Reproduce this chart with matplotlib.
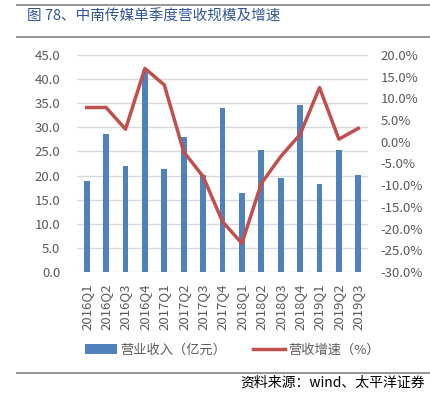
import matplotlib
matplotlib.use('Agg')
import matplotlib.pyplot as plt
from matplotlib.lines import Line2D
from matplotlib.ticker import FuncFormatter

plt.rcParams['font.family'] = ['Noto Sans CJK SC', 'DejaVu Sans']

# datos
trimestres = ['2016Q1', '2016Q2', '2016Q3', '2016Q4', '2017Q1', '2017Q2', '2017Q3',
              '2017Q4', '2018Q1', '2018Q2', '2018Q3', '2018Q4', '2019Q1', '2019Q2', '2019Q3']
ingresos = [18.9, 28.6, 21.9, 41.9, 21.4, 28.0, 20.1, 34.0, 16.3, 25.2, 19.4, 34.6, 18.3, 25.2, 20.1]
crecimiento = [7.9, 7.9, 2.9, 16.9, 13.1, -2.3, -8.0, -18.4, -23.4, -9.6, -3.4, 1.7, 12.5, 0.6, 3.1]

azul = '#4F81BD'
rojo = '#C0504D'
gris = '#595959'

fig = plt.figure(figsize=(4.31, 3.96), dpi=100)
ax = fig.add_axes([77 / 431, 1 - 272 / 396, 291 / 431, 217 / 396])
ax2 = ax.twinx()

x = list(range(len(trimestres)))
ax.bar(x, ingresos, width=0.3, color=azul, label='营业收入（亿元）', zorder=2)
ax2.plot(x, crecimiento, color=rojo, lw=2.5, label='营收增速（%）', zorder=3)

ax.set_xlim(-0.5, 14.5)
ax.set_ylim(0, 45)
ax.set_yticks([i * 5 for i in range(10)])
ax.yaxis.set_major_formatter(FuncFormatter(lambda v, p: f'{v:.1f}'))
ax2.set_ylim(-30, 20)
ax2.set_yticks(list(range(-30, 21, 5)))
ax2.yaxis.set_major_formatter(FuncFormatter(lambda v, p: f'{v:.1f}%'))

ax.set_xticks(x)
ax.set_xticklabels(trimestres, rotation=90)
ax.grid(axis='y', color='#D9D9D9', lw=1, zorder=0)
ax.set_axisbelow(True)

for a in (ax, ax2):
    for s in a.spines.values():
        s.set_visible(False)
    a.tick_params(length=0, colors=gris, labelsize=9.5)
ax.tick_params(axis='y', pad=12)
ax.tick_params(axis='x', pad=8)
ax2.tick_params(axis='y', pad=9)

h1, l1 = ax.get_legend_handles_labels()
h2, l2 = ax2.get_legend_handles_labels()
leg = ax.legend(h1 + h2, l1 + l2, ncol=2, frameon=False, fontsize=9.5,
                loc='center', bbox_to_anchor=(0.535, -0.36),
                handlelength=2.4, handletextpad=0.3, columnspacing=2.0)
for t in leg.get_texts():
    t.set_color(gris)

# lineas y textos del informe
for yy in (5, 37, 373):
    fig.add_artist(Line2D([17 / 431, 1.0], [1 - yy / 396] * 2, color='#8C8C8C', lw=1.3))
fig.text(27 / 431, 1 - 17 / 396, '图 78、中南传媒单季度营收规模及增速', color='#2F5597',
         fontsize=10.5, va='center', ha='left')
fig.text(425 / 431, 1 - 383 / 396, '资料来源：wind、太平洋证券', color='#000000',
         fontsize=10, va='center', ha='right')

fig.savefig('out.png', dpi=100)
